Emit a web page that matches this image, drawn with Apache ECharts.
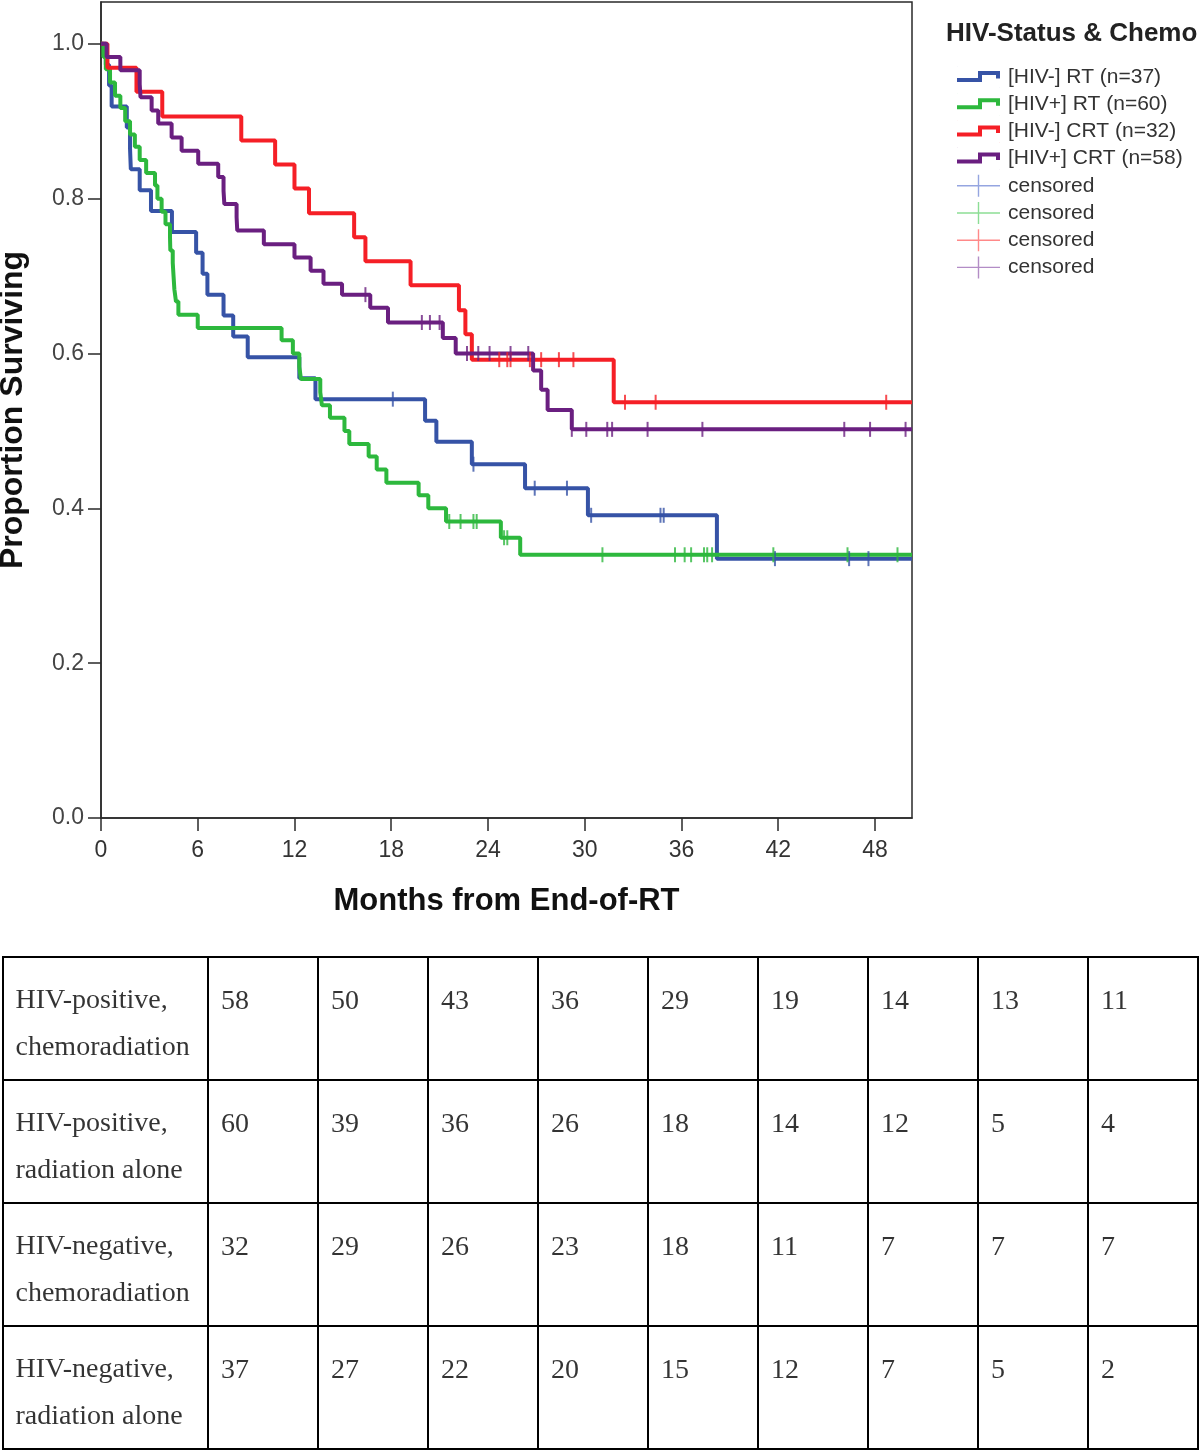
<!DOCTYPE html>
<html><head><meta charset="utf-8">
<script src="https://cdn.jsdelivr.net/npm/echarts@6/dist/echarts.min.js"></script>
<style>html,body{margin:0;padding:0;background:#fff}#c{width:1200px;height:1452px}</style>
</head><body><div id="c"></div><script>
// ---------- data ----------
const xTicks = [0, 6, 12, 18, 24, 30, 36, 42, 48];
const yTicks = [0, 0.2, 0.4, 0.6, 0.8, 1.0];
const followEnd = 50.3;

const seriesNames = ['[HIV-] RT (n=37)', '[HIV+] RT (n=60)', '[HIV-] CRT (n=32)', '[HIV+] CRT (n=58)'];

const blueTimes = [0, 0.3, 0.5, 0.66, 1.6, 1.8, 1.85, 2.4, 3.1, 4.4, 5.9, 6.3, 6.6, 7.6, 8.2, 9.1, 12.3, 13.3, 20.1, 20.8, 23.0, 26.3, 30.2, 38.2];
const blueSurv  = [1, 0.973, 0.946, 0.919, 0.892, 0.865, 0.838, 0.811, 0.784, 0.757, 0.730, 0.703, 0.676, 0.649, 0.622, 0.595, 0.568, 0.541, 0.513, 0.486, 0.457, 0.426, 0.391, 0.335];
const blueCens  = [18.1, 23.1, 26.9, 28.9, 30.4, 34.7, 34.9, 41.8, 46.4, 47.6];

const greenTimes = [0, 0.15, 0.3, 0.56, 0.87, 1.2, 1.5, 1.8, 2.1, 2.4, 2.8, 3.35, 3.5, 3.76, 4.0, 4.28, 4.3, 4.45, 4.5, 4.55, 4.65, 4.8, 6.0, 11.2, 11.9, 12.3, 12.4, 13.6, 13.7, 14.2, 15.1, 15.4, 16.6, 17.1, 17.7, 19.7, 20.3, 21.4, 24.8, 26.0];
const greenSurv  = [1, 0.983, 0.967, 0.950, 0.933, 0.917, 0.900, 0.883, 0.867, 0.850, 0.833, 0.817, 0.800, 0.783, 0.767, 0.750, 0.733, 0.717, 0.700, 0.683, 0.667, 0.650, 0.633, 0.617, 0.600, 0.583, 0.567, 0.550, 0.533, 0.517, 0.500, 0.483, 0.467, 0.450, 0.433, 0.417, 0.400, 0.383, 0.362, 0.340];
const greenCens  = [21.6, 22.3, 23.1, 23.3, 25.0, 25.2, 31.1, 35.6, 36.2, 36.6, 37.4, 37.6, 37.9, 41.7, 46.3, 49.4];

const redTimes = [0, 0.4, 2.2, 3.8, 8.7, 10.8, 12.0, 12.9, 15.7, 16.4, 19.2, 22.2, 22.6, 23.0, 31.8];
const redSurv  = [1, 0.969, 0.938, 0.906, 0.875, 0.844, 0.813, 0.781, 0.750, 0.719, 0.688, 0.656, 0.625, 0.592, 0.537];
const redCens  = [24.7, 25.2, 25.4, 26.6, 27.3, 28.4, 29.3, 32.5, 34.4, 48.7];

const purpleTimes = [0, 0.35, 1.2, 2.4, 2.45, 3.14, 3.55, 4.38, 5.0, 6.03, 7.27, 7.6, 7.65, 8.41, 8.45, 10.1, 12.0, 13.0, 13.8, 14.95, 16.7, 17.8, 21.2, 22.0, 26.8, 27.3, 27.7, 29.2];
const purpleSurv  = [1, 0.983, 0.966, 0.948, 0.931, 0.914, 0.897, 0.879, 0.862, 0.845, 0.828, 0.810, 0.793, 0.776, 0.759, 0.741, 0.724, 0.707, 0.690, 0.676, 0.659, 0.640, 0.620, 0.600, 0.578, 0.553, 0.527, 0.502];
const purpleCens  = [16.4, 19.9, 20.4, 21.0, 22.7, 23.4, 24.1, 25.4, 26.5, 29.2, 30.1, 31.4, 31.7, 33.9, 37.3, 46.1, 47.7, 49.9];

const tableRowLabels = ['HIV-positive,\nchemoradiation', 'HIV-positive,\nradiation alone', 'HIV-negative,\nchemoradiation', 'HIV-negative,\nradiation alone'];
const tableCols = ['c1','c2','c3','c4','c5','c6','c7','c8','c9'];
const riskHivPosCrt = [58, 50, 43, 36, 29, 19, 14, 13, 11];
const riskHivPosRt  = [60, 39, 36, 26, 18, 14, 12, 5, 4];
const riskHivNegCrt = [32, 29, 26, 23, 18, 11, 7, 7, 7];
const riskHivNegRt  = [37, 27, 22, 20, 15, 12, 7, 5, 2];

// ---------- helpers ----------
const colors = ['#3653a6', '#2db83d', '#f51f26', '#6a1f80'];
const censLegendColors = ['#7b8fd8', '#6fd47a', '#ff6b6b', '#a070b8'];
function stepData(times, surv) {
  const d = times.map((t, i) => [t, surv[i]]);
  d.push([followEnd, surv[surv.length - 1]]);
  return d;
}
function survAt(times, surv, t) {
  let s = surv[0];
  for (let i = 0; i < times.length; i++) if (times[i] <= t) s = surv[i];
  return s;
}
function censData(times, surv, cens) { return cens.map(t => [t, survAt(times, surv, t)]); }

const groups = [
  [blueTimes, blueSurv, blueCens],
  [greenTimes, greenSurv, greenCens],
  [redTimes, redSurv, redCens],
  [purpleTimes, purpleSurv, purpleCens]
];

const stepIcon = 'path://M0,0 L0.3,0 L0,0.3 Z M43,22 L42.7,22 L43,21.7 Z M0,12 L21,12 L21,5 L43,5 L43,12.5 L39,12.5 L39,9 L25,9 L25,16 L0,16 Z';
const crossIcon = 'path://M0,10.3 L43,10.3 L43,11.7 L0,11.7 Z M20.8,0 L22.2,0 L22.2,22 L20.8,22 Z';

const series = [];
groups.forEach((g, i) => {
  series.push({
    name: seriesNames[i], type: 'line', xAxisIndex: 0, yAxisIndex: 0,
    step: 'end', symbol: 'none', showSymbol: false,
    data: stepData(g[0], g[1]),
    lineStyle: { color: colors[i], width: 4 }, itemStyle: { color: colors[i] },
    emphasis: { disabled: true }, z: 2 + i
  });
});
groups.forEach((g, i) => {
  series.push({
    name: 'cens' + i, type: 'scatter', xAxisIndex: 0, yAxisIndex: 0,
    symbol: 'rect', symbolSize: [2, 15],
    data: censData(g[0], g[1], g[2]),
    itemStyle: { color: colors[i] }, emphasis: { disabled: true }, z: 10
  });
});

const serif = 'Liberation Serif, Times New Roman, serif';

// table row labels (first column)
series.push({
  type: 'scatter', xAxisIndex: 1, yAxisIndex: 1, symbolSize: 1,
  itemStyle: { color: 'rgba(0,0,0,0)' }, silent: true,
  data: tableRowLabels.map((t, r) => [0, r]),
  label: {
    show: true, position: 'inside', align: 'left', verticalAlign: 'middle',
    offset: [-90, 6], formatter: p => tableRowLabels[p.value[1]],
    fontFamily: serif, fontSize: 28, lineHeight: 47, color: '#000'
  }
});

// table numbers
const riskRows = [riskHivPosCrt, riskHivPosRt, riskHivNegCrt, riskHivNegRt];
const tableData = [];
riskRows.forEach((row, r) => row.forEach((v, c) => tableData.push([c, r, v])));
series.push({
  type: 'scatter', xAxisIndex: 2, yAxisIndex: 2, symbolSize: 1,
  itemStyle: { color: 'rgba(0,0,0,0)' }, silent: true,
  data: tableData,
  label: {
    show: true, position: 'inside', align: 'left', verticalAlign: 'middle',
    offset: [-42, -17], formatter: p => String(p.value[2]),
    fontFamily: serif, fontSize: 28, color: '#000'
  }
});

const legendData = seriesNames.map((n, i) => ({ name: n, icon: stepIcon }))
  .concat([0, 1, 2, 3].map(i => ({ name: 'cens' + i, icon: crossIcon, itemStyle: { color: censLegendColors[i] } })));

const sans = 'Liberation Sans, Arial, sans-serif';
const tableLine = { color: '#000', width: 2 };

const option = {
  animation: false,
  backgroundColor: '#fff',
  title: {
    text: 'HIV-Status & Chemo', left: 946, top: 21, padding: 0,
    textStyle: { fontFamily: sans, fontSize: 26, fontWeight: 'bold', color: '#222' }
  },
  legend: {
    orient: 'vertical', left: 957, top: 66, padding: 0, itemWidth: 43, itemHeight: 22, itemGap: 5.2,
    selectedMode: false, data: legendData,
    formatter: n => n.indexOf('cens') === 0 ? 'censored' : n,
    textStyle: { fontFamily: sans, fontSize: 21, color: '#333', padding: [0, 0, 0, 3] }
  },
  grid: [
    { left: 101, top: 2, width: 811, height: 816, show: true, borderColor: '#2a2a2a', borderWidth: 1.5, backgroundColor: '#fff', containLabel: false, outerBoundsMode: 'none' },
    { left: 3, top: 957, width: 205, height: 492, show: true, borderColor: '#000', borderWidth: 2, containLabel: false, outerBoundsMode: 'none' },
    { left: 208, top: 957, width: 990, height: 492, show: true, borderColor: '#000', borderWidth: 2, containLabel: false, outerBoundsMode: 'none' }
  ],
  xAxis: [
    {
      gridIndex: 0, type: 'value', min: 0, max: followEnd,
      axisLine: { show: true, lineStyle: { color: '#2a2a2a', width: 1.5 } },
      axisTick: { show: true, length: 13, customValues: xTicks, lineStyle: { color: '#2a2a2a', width: 1.5 } },
      axisLabel: { customValues: xTicks, margin: 21, fontFamily: sans, fontSize: 23, color: '#333' },
      splitLine: { show: false },
      name: 'Months from End-of-RT', nameLocation: 'middle', nameGap: 68,
      nameTextStyle: { fontFamily: sans, fontSize: 31, fontWeight: 'bold', color: '#111' }
    },
    {
      gridIndex: 1, type: 'category', data: ['lbl'],
      axisLine: { show: false }, axisTick: { show: false }, axisLabel: { show: false }, splitLine: { show: false }
    },
    {
      gridIndex: 2, type: 'category', data: tableCols,
      axisLine: { show: false }, axisTick: { show: false }, axisLabel: { show: false },
      splitLine: { show: true, interval: 0, lineStyle: tableLine }
    }
  ],
  yAxis: [
    {
      gridIndex: 0, type: 'value', min: 0, max: 1.054,
      axisLine: { show: true, lineStyle: { color: '#2a2a2a', width: 1.5 } },
      axisTick: { show: true, length: 13, customValues: yTicks, lineStyle: { color: '#2a2a2a', width: 1.5 } },
      axisLabel: { customValues: yTicks, margin: 17, fontFamily: sans, fontSize: 23, color: '#444', formatter: v => v.toFixed(1) },
      splitLine: { show: false },
      name: 'Proportion Surviving', nameLocation: 'middle', nameGap: 72,
      nameTextStyle: { fontFamily: sans, fontSize: 32, fontWeight: 'bold', color: '#111' }
    },
    {
      gridIndex: 1, type: 'category', data: tableRowLabels, inverse: true,
      axisLine: { show: false }, axisTick: { show: false }, axisLabel: { show: false },
      splitLine: { show: true, interval: 0, lineStyle: tableLine }
    },
    {
      gridIndex: 2, type: 'category', data: tableRowLabels, inverse: true,
      axisLine: { show: false }, axisTick: { show: false }, axisLabel: { show: false },
      splitLine: { show: true, interval: 0, lineStyle: tableLine }
    }
  ],
  series: series
};

const chart = echarts.init(document.getElementById('c'), null, { renderer: 'canvas' });
chart.setOption(option);
</script></body></html>
